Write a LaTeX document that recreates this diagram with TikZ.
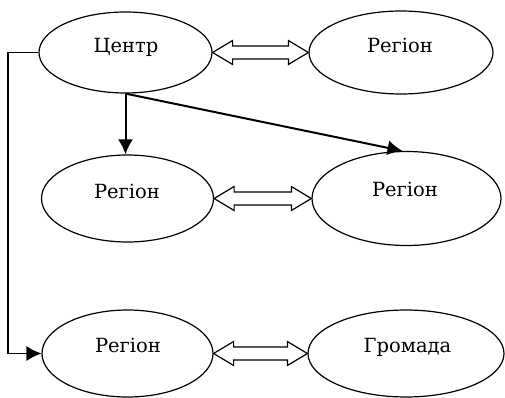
\documentclass[tikz,border=0pt]{standalone}
\usepackage{fontspec}
\setmainfont{DejaVu Serif}
\newfontfamily\refserif{DejaVu Serif}
\usetikzlibrary{shapes.geometric,arrows.meta,calc}
\tikzset{
  ell/.style={draw, ellipse, line width=1.2pt, inner sep=0pt},
  txt/.style={anchor=base, inner sep=0pt, font=\refserif\fontsize{19.5}{23}\selectfont},
  dbl/.style={draw, line width=1.2pt, line join=miter, fill=white},
  solidarrow/.style={line width=2pt, -{Latex[length=15pt,width=15pt]}},
  elbow/.style={line width=1.3pt, -{Latex[length=15pt,width=15pt]}}
}
\newcommand{\myHollowArrow}[2]{%
  \draw[dbl] (#1) -- ++(20,12) -- ++(0,-5.5) -- ($(#2)+(-20,6.5)$) -- ++(0,5.5)
    -- (#2) -- ++(-20,-12) -- ++(0,5.5) -- ($(#1)+(20,-6.5)$) -- ++(0,-5.5) -- cycle;}
\begin{document}
\begin{tikzpicture}[x=1pt,y=-1pt]
\useasboundingbox (0,0) rectangle (505,398);
% ellipses
\node[ell, minimum width=173, minimum height=81] (c) at (125.5,52.5) {};
\node[ell, minimum width=184, minimum height=83] (r1) at (401,52.5) {};
\node[ell, minimum width=172, minimum height=87] (l2) at (127.5,198.5) {};
\node[ell, minimum width=189, minimum height=94] (r2) at (406.5,198.5) {};
\node[ell, minimum width=171, minimum height=87] (l3) at (127.5,353.5) {};
\node[ell, minimum width=196, minimum height=87] (g) at (406,353.5) {};
% texts
\node[txt] (tc) at (126,53) {Центр};
\node[txt] (tr1) at (400,53) {Регіон};
\node[txt] (tl2) at (127,198) {Регіон};
\node[txt] (tr2) at (405,196) {Регіон};
\node[txt] (tl3) at (128,352) {Регіон};
\node[txt] (tg) at (407.5,352) {Громада};
% hollow double arrows
\myHollowArrow{c.east}{r1.west}
\myHollowArrow{l2.east}{r2.west}
\myHollowArrow{l3.east}{g.west}
% solid arrows
\draw[solidarrow] (c.south) -- (c.south |- l2.north);
\draw[solidarrow] (c.south) -- ($(r2.north)+(-4,0)$);
% elbow connector
\coordinate (k1) at (8,0 |- c.west);
\draw[line width=1.3pt] (c.west) -- (k1);
\draw[elbow] (k1) |- (l3.west);
\end{tikzpicture}
\end{document}
